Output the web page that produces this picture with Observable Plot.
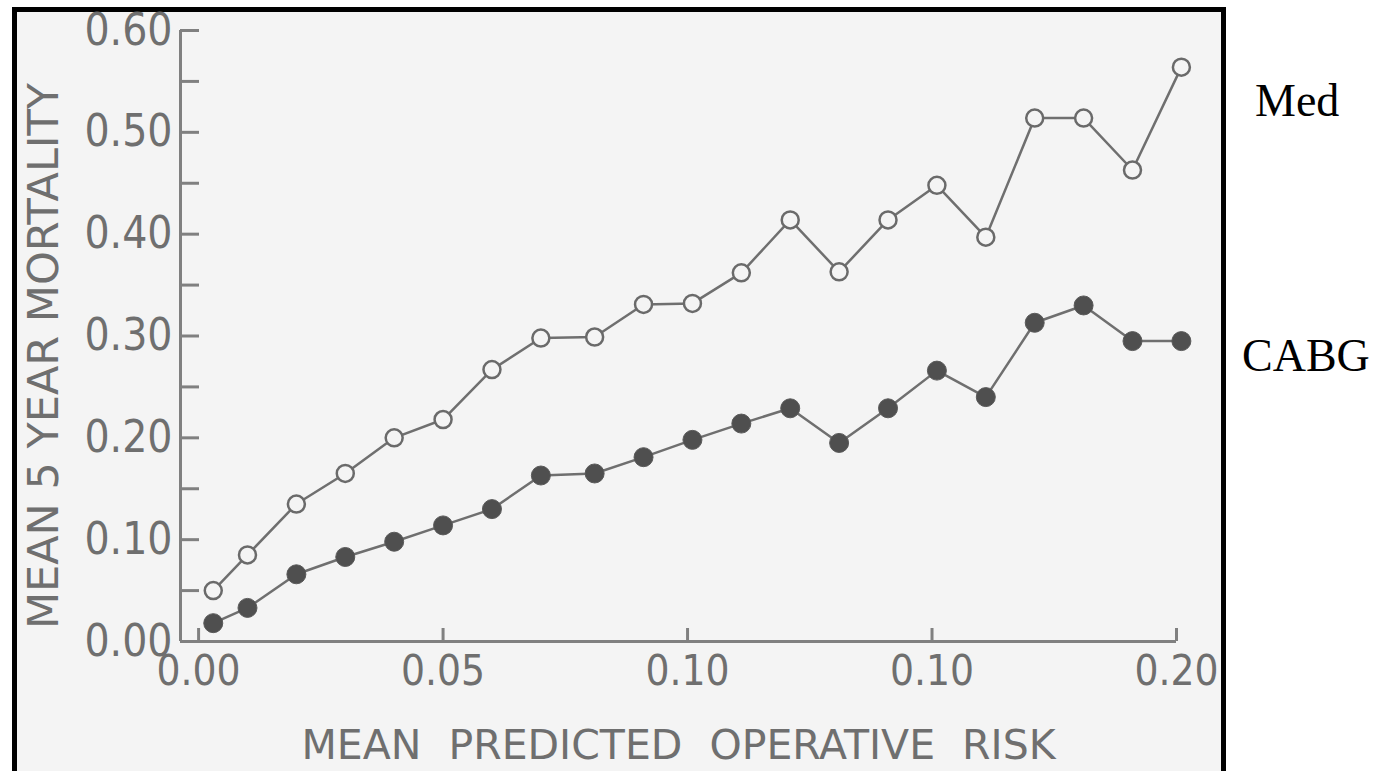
<!DOCTYPE html>
<html>
<head>
<meta charset="utf-8">
<script src="https://cdn.jsdelivr.net/npm/d3@7"></script>
<script src="https://cdn.jsdelivr.net/npm/@observablehq/plot@0.6"></script>
<style>
  html, body { margin: 0; padding: 0; background: #ffffff; }
  #wrap { position: relative; width: 1380px; height: 771px; overflow: hidden; }
  #frame { position: absolute; left: 12px; top: 7px; width: 1204px; height: 820px;
           border: 5px solid #000; border-bottom: none; background: #f4f4f4; }
  #chart { position: absolute; left: 0; top: 0; width: 1224px; height: 771px; }
  .lab { position: absolute; font-family: "Liberation Serif", "Times New Roman", serif;
         font-size: 46px; line-height: 1; color: #000; white-space: nowrap; }
</style>
</head>
<body>
<div id="wrap">
  <div id="frame"></div>
  <div id="chart"></div>
  <div class="lab" id="labMed" style="left:1255px; top:78px;"></div>
  <div class="lab" id="labCabg" style="left:1242px; top:333px;"></div>
</div>
<script>
// ---- data ----
const risk = [0.003, 0.010, 0.020, 0.030, 0.040, 0.050, 0.060, 0.070, 0.081, 0.091, 0.101,
              0.111, 0.121, 0.131, 0.141, 0.151, 0.161, 0.171, 0.181, 0.191, 0.201];
const medMortality = [0.050, 0.085, 0.135, 0.165, 0.200, 0.218, 0.267, 0.298, 0.299, 0.331, 0.332,
                      0.362, 0.414, 0.363, 0.414, 0.448, 0.397, 0.514, 0.514, 0.463, 0.564];
const cabgMortality = [0.018, 0.033, 0.066, 0.083, 0.098, 0.114, 0.130, 0.163, 0.165, 0.181, 0.198,
                       0.214, 0.229, 0.195, 0.229, 0.266, 0.240, 0.313, 0.330, 0.295, 0.295];
const seriesNames = ["Med", "CABG"];

const yTickValues = [0, 0.05, 0.10, 0.15, 0.20, 0.25, 0.30, 0.35, 0.40, 0.45, 0.50, 0.55, 0.60];
const yLabelValues = [0, 0.10, 0.20, 0.30, 0.40, 0.50, 0.60];
const yTickLabels = ["0.00", "0.10", "0.20", "0.30", "0.40", "0.50", "0.60"];
const xTickValues = [0, 0.05, 0.10, 0.15, 0.20];
const xTickLabels = ["0.00", "0.05", "0.10", "0.10", "0.20"];
const xTitle = "MEAN PREDICTED OPERATIVE RISK";
const yTitle = "MEAN 5 YEAR MORTALITY";

// ---- build ----
const medData = risk.map((r, i) => ({risk: r, value: medMortality[i], series: seriesNames[0]}));
const cabgData = risk.map((r, i) => ({risk: r, value: cabgMortality[i], series: seriesNames[1]}));
const allData = medData.concat(cabgData);

const xDomain = [-0.0037, 0.20];
const yDomain = [0, 0.60];
const ink = "#6f6f6f";
const axisInk = "#808080";
const bg = "#f4f4f4";
const condFont = '"DejaVu Sans Condensed", "DejaVu Sans", sans-serif';
const sansFont = '"DejaVu Sans", sans-serif';

const plot = Plot.plot({
  width: 1224,
  height: 771,
  marginLeft: 180,
  marginRight: 48,
  marginTop: 30,
  marginBottom: 130,
  style: {background: "transparent", overflow: "visible", fontFamily: condFont},
  x: {domain: xDomain, axis: null},
  y: {domain: yDomain, axis: null},
  marks: [
    // axis lines
    Plot.ruleY([yDomain[0]], {stroke: axisInk, strokeWidth: 3}),
    Plot.ruleX([xDomain[0]], {stroke: axisInk, strokeWidth: 3}),
    // inward ticks
    Plot.axisY({ticks: yTickValues, tickSize: -19, fill: "none", stroke: axisInk, strokeWidth: 3, label: null}),
    Plot.axisX({ticks: xTickValues, tickSize: -13, fill: "none", stroke: axisInk, strokeWidth: 3, label: null}),
    // tick labels
    Plot.axisY({ticks: yLabelValues, tickSize: 0, tickPadding: 8,
                tickFormat: d => yTickLabels[yLabelValues.indexOf(d)],
                fontSize: 44, fontFamily: condFont, fill: ink, label: null}),
    Plot.axisX({ticks: xTickValues, tickSize: 0, tickPadding: 14,
                tickFormat: d => xTickLabels[xTickValues.indexOf(d)],
                fontSize: 42, fontFamily: condFont, fill: ink, label: null}),
    // axis titles
    Plot.text([yTitle], {frameAnchor: "left", textAnchor: "middle", lineAnchor: "middle",
                         rotate: -90, dx: -136, dy: 20,
                         fontSize: 43, fontFamily: sansFont, fill: ink}),
    Plot.text([xTitle], {frameAnchor: "bottom", textAnchor: "middle", lineAnchor: "middle", dy: 104,
                         fontSize: 41, fontFamily: sansFont, fill: ink}),
    // series
    Plot.line(allData, {x: "risk", y: "value", z: "series", stroke: ink, strokeWidth: 2.5}),
    Plot.dot(medData, {x: "risk", y: "value", r: 8.5, stroke: "#6a6a6a", strokeWidth: 2.5, fill: bg}),
    Plot.dot(cabgData, {x: "risk", y: "value", r: 9.5, fill: "#4f4f4f", stroke: "#5a5a5a", strokeWidth: 1})
  ]
});

d3.select(plot).selectAll("text")
  .filter(function () { return this.textContent === xTitle; })
  .style("word-spacing", "14px");

document.getElementById("chart").appendChild(plot);
document.getElementById("labMed").textContent = seriesNames[0];
document.getElementById("labCabg").textContent = seriesNames[1];
</script>
</body>
</html>
